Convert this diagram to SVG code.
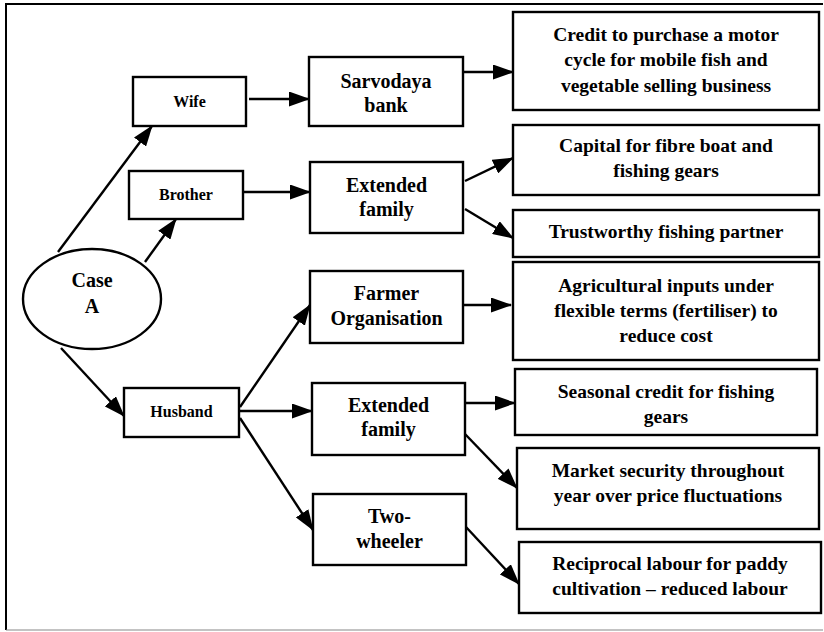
<svg xmlns="http://www.w3.org/2000/svg" width="824" height="632" viewBox="0 0 824 632">
<defs>
<marker id="ah" viewBox="0 0 21 15" refX="20" refY="7.5" markerWidth="21" markerHeight="15" markerUnits="userSpaceOnUse" orient="auto">
<path d="M0,0 L21,7.5 L0,15 Z" fill="#000"/>
</marker>
<style>
rect, ellipse { fill: #fff; stroke: #000; stroke-width: 2.4; }
text { font-family: "Liberation Serif", "Times New Roman", serif; font-weight: bold; text-anchor: middle; fill: #000; }
.s { font-size: 16px; }
.m { font-size: 20px; }
.r { font-size: 19.5px; }
#connectors line { stroke: #000; stroke-width: 2.4; marker-end: url(#ah); }
</style>
</defs>
<rect x="0" y="0" width="824" height="632" style="fill:#fff;stroke:none"/>
<path d="M823,4 H6 V630" fill="none" stroke="#000" stroke-width="2"/>
<path d="M6,630 H823" fill="none" stroke="#888" stroke-width="1.2"/>

<g id="connectors">
<line x1="58" y1="252" x2="152" y2="126"/>
<line x1="145" y1="262" x2="176" y2="219"/>
<line x1="61" y1="348" x2="124" y2="416"/>
<line x1="249" y1="99" x2="309" y2="99"/>
<line x1="243" y1="192" x2="310" y2="192"/>
<line x1="463" y1="72" x2="513" y2="72"/>
<line x1="465" y1="181" x2="513" y2="158"/>
<line x1="465" y1="209" x2="513" y2="238"/>
<line x1="463" y1="305" x2="511" y2="305"/>
<line x1="240" y1="407" x2="310" y2="305"/>
<line x1="240" y1="411" x2="312" y2="411"/>
<line x1="240" y1="418" x2="313" y2="530"/>
<line x1="465" y1="403" x2="515" y2="403"/>
<line x1="465" y1="434" x2="517" y2="488"/>
<line x1="466" y1="527" x2="519" y2="584"/>
</g>

<g id="caseA">
<ellipse cx="92" cy="299" rx="69" ry="50"/>
<text class="m" x="92" y="287">Case</text>
<text class="m" x="92" y="313">A</text>
</g>

<g id="wife">
<rect x="133" y="77" width="113" height="49"/>
<text class="s" x="189.5" y="107">Wife</text>
</g>
<g id="brother">
<rect x="129" y="171" width="114" height="48"/>
<text class="s" x="186" y="200">Brother</text>
</g>
<g id="husband">
<rect x="124" y="388" width="115" height="49"/>
<text class="s" x="181.5" y="417">Husband</text>
</g>

<g id="sarvodaya">
<rect x="309" y="57" width="154" height="69"/>
<text class="m" x="386" y="88">Sarvodaya</text>
<text class="m" x="386" y="112">bank</text>
</g>
<g id="extended1">
<rect x="310" y="162" width="153" height="71"/>
<text class="m" x="386.5" y="192">Extended</text>
<text class="m" x="386.5" y="216">family</text>
</g>
<g id="farmer">
<rect x="310" y="271" width="153" height="72"/>
<text class="m" x="386.5" y="300">Farmer</text>
<text class="m" x="386.5" y="325">Organisation</text>
</g>
<g id="extended2">
<rect x="312" y="383" width="153" height="72"/>
<text class="m" x="388.5" y="412">Extended</text>
<text class="m" x="388.5" y="436">family</text>
</g>
<g id="twowheeler">
<rect x="313" y="494" width="153" height="71"/>
<text class="m" x="389.5" y="523">Two-</text>
<text class="m" x="389.5" y="548">wheeler</text>
</g>

<g id="credit">
<rect x="513" y="12" width="306" height="98"/>
<text class="r" x="666" y="40.5">Credit to purchase a motor</text>
<text class="r" x="666" y="66">cycle for mobile fish and</text>
<text class="r" x="666" y="91.5">vegetable selling business</text>
</g>
<g id="capital">
<rect x="513" y="125" width="306" height="70"/>
<text class="r" x="666" y="152">Capital for fibre boat and</text>
<text class="r" x="666" y="177">fishing gears</text>
</g>
<g id="trust">
<rect x="513" y="210" width="306" height="47"/>
<text class="r" x="666" y="238">Trustworthy fishing partner</text>
</g>
<g id="agri">
<rect x="513" y="262" width="306" height="98"/>
<text class="r" x="666" y="292">Agricultural inputs under</text>
<text class="r" x="666" y="317">flexible terms (fertiliser) to</text>
<text class="r" x="666" y="342">reduce cost</text>
</g>
<g id="seasonal">
<rect x="515" y="369" width="302" height="66"/>
<text class="r" x="666" y="398">Seasonal credit for fishing</text>
<text class="r" x="666" y="423">gears</text>
</g>
<g id="market">
<rect x="517" y="448" width="302" height="81"/>
<text class="r" x="668" y="477">Market security throughout</text>
<text class="r" x="668" y="502">year over price fluctuations</text>
</g>
<g id="reciprocal">
<rect x="519" y="542" width="302" height="71"/>
<text class="r" x="670" y="570">Reciprocal labour for paddy</text>
<text class="r" x="670" y="595">cultivation – reduced labour</text>
</g>
</svg>
